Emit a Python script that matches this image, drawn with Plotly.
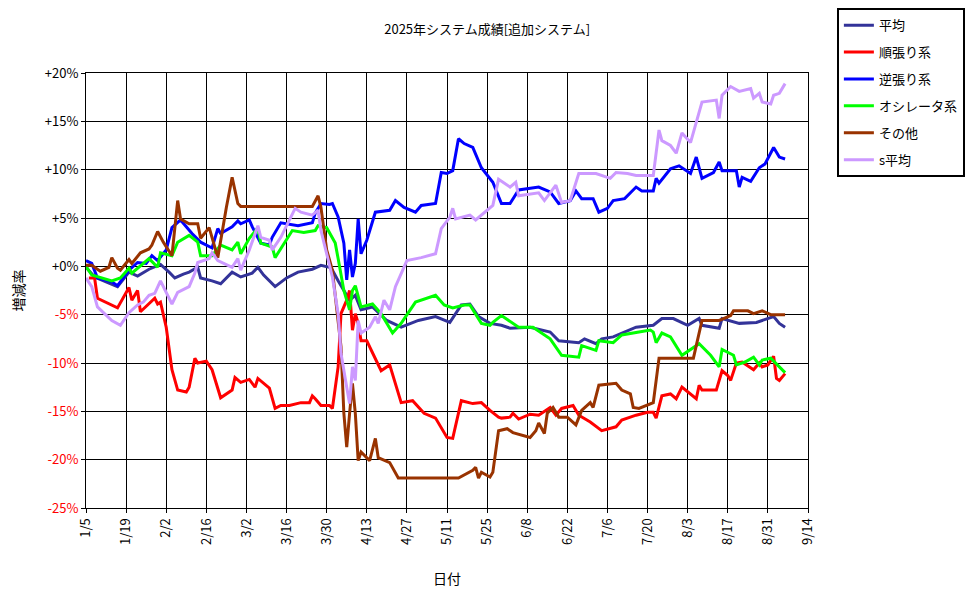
import pandas as pd
import plotly.graph_objects as go

# days counted from 2025-01-05, values in %
avg_days = [0, 3, 7, 11, 15, 18, 22, 26, 29, 31, 34, 36, 39, 40, 44, 47, 51, 54, 58, 60, 62, 66, 70, 74, 79, 82, 85,
            86, 88, 90, 92, 94, 96, 100, 105, 110, 116, 122, 127, 131, 134, 137, 141, 145, 148, 155, 162, 165, 172,
            174, 178, 180, 184, 192, 198, 201, 205, 210, 214, 215, 221, 222, 228, 234, 240, 242, 244]
avg_vals = [-0.1, -1.1, -1.6, -2.1, -0.6, -1.0, -0.3, 0.2, -0.6, -1.2, -0.8, -0.6, -0.1, -1.2, -1.5, -1.8, -0.6, -1.1,
            -0.7, -0.1, -0.9, -2.1, -1.2, -0.6, -0.3, 0.1, -0.1, -0.4, -1.5, -2.5, -3.5, -3.0, -4.5, -4.2, -5.6, -6.3,
            -5.6, -5.2, -5.8, -4.0, -3.9, -5.2, -5.9, -6.1, -6.4, -6.3, -6.8, -7.7, -7.9, -7.5, -8.0, -7.5, -7.3, -6.3,
            -6.1, -5.4, -5.4, -6.1, -5.4, -6.1, -6.4, -5.4, -5.9, -5.8, -5.2, -5.9, -6.3]

trend_days = [1, 3, 4, 9, 11, 15, 16, 18, 19, 24, 25, 26, 28, 30, 32, 35, 36, 38, 39, 42, 44, 47, 51, 52, 54, 57, 59,
              60, 64, 66, 68, 71, 75, 78, 79, 80, 82, 85, 86, 88, 89, 91, 92, 93, 94, 95, 96, 98, 100, 103, 106, 110,
              114, 118, 122, 126, 128, 131, 135, 138, 141, 144, 145, 148, 149, 151, 155, 158, 162, 164, 166, 170, 172,
              176, 180, 185, 187, 192, 196, 198, 199, 201, 204, 206, 208, 213, 214, 215, 220, 222, 224, 225, 227, 229,
              233, 235, 236, 238, 240, 241, 242, 244]
trend_vals = [-1.2, -1.2, -3.3, -4.0, -4.3, -2.2, -3.5, -2.5, -4.7, -3.3, -3.9, -3.7, -6.3, -10.7, -12.8, -13.0, -12.5,
              -9.5, -10.0, -9.8, -10.7, -13.6, -12.8, -11.5, -12.0, -11.7, -12.5, -11.6, -12.6, -14.7, -14.4, -14.4,
              -14.1, -14.1, -13.4, -13.7, -14.4, -14.4, -14.7, -10.4, -4.9, -3.5, -2.5, -6.6, -4.9, -5.9, -7.7, -7.7,
              -9.0, -10.8, -10.2, -14.1, -13.9, -15.2, -15.7, -17.7, -17.8, -13.9, -14.2, -14.1, -14.9, -15.6, -15.7,
              -15.6, -15.2, -15.8, -15.3, -15.4, -14.6, -15.4, -14.7, -14.4, -15.4, -16.1, -17.0, -16.6, -15.9, -15.4,
              -15.1, -15.1, -15.7, -13.4, -13.2, -13.7, -12.5, -13.7, -12.3, -12.8, -12.8, -10.8, -11.3, -11.8, -10.0,
              -9.9, -10.7, -10.0, -10.4, -10.2, -9.3, -11.6, -11.8, -11.1]

contra_days = [0, 2, 4, 9, 11, 15, 18, 21, 23, 25, 28, 30, 33, 37, 40, 44, 46, 47, 51, 53, 54, 57, 58, 61, 64, 65, 68,
               70, 74, 79, 80, 82, 85, 86, 88, 90, 91, 92, 93, 94, 95, 96, 98, 101, 106, 108, 111, 115, 117, 122, 124,
               126, 128, 130, 132, 135, 138, 142, 145, 148, 151, 158, 162, 165, 169, 171, 173, 177, 179, 182, 184, 188,
               192, 194, 198, 199, 200, 204, 207, 211, 213, 215, 219, 221, 222, 227, 228, 229, 232, 235, 237, 240, 242,
               244]
contra_vals = [0.6, 0.3, -1.2, -1.6, -2.0, -0.4, 0.4, 0.3, 1.1, 0.6, 1.7, 4.0, 4.8, 3.4, 2.5, 1.9, 3.9, 3.4, 4.1, 4.7,
               4.4, 4.8, 4.1, 2.4, 2.2, 3.0, 4.5, 4.4, 4.2, 4.5, 5.5, 6.5, 6.4, 6.5, 5.1, 2.4, -1.4, 1.7, -1.1, 0.3, 4.9,
               1.3, 2.7, 5.6, 5.8, 6.8, 6.1, 5.6, 6.3, 6.5, 9.7, 9.6, 9.9, 13.2, 12.7, 12.3, 10.2, 8.7, 6.5, 6.5, 7.9,
               8.2, 7.7, 6.5, 6.8, 7.8, 7.0, 7.0, 5.6, 6.0, 6.8, 7.0, 8.2, 7.8, 7.8, 9.1, 8.6, 10.1, 10.4, 9.6, 11.3,
               9.1, 9.7, 10.8, 9.9, 9.9, 8.2, 9.2, 8.8, 10.2, 10.6, 12.3, 11.3, 11.1]

osc_days = [0, 2, 9, 12, 15, 16, 22, 25, 26, 30, 32, 36, 39, 40, 44, 47, 51, 53, 54, 57, 60, 61, 65, 66, 72, 76, 80,
            81, 84, 87, 88, 90, 92, 93, 94, 95, 96, 100, 103, 107, 110, 115, 122, 125, 128, 132, 134, 138, 141, 142,
            145, 151, 156, 162, 166, 172, 173, 178, 179, 184, 187, 193, 197, 198, 199, 201, 204, 208, 212, 214, 218,
            221, 222, 226, 227, 230, 233, 235, 236, 239, 244]
osc_vals = [0.0, -0.9, -1.5, -1.2, -0.2, -0.7, 0.8, -0.1, 1.4, 1.1, 2.5, 3.2, 2.5, 1.1, 1.1, 2.2, 1.7, 2.5, 1.3, 2.9,
            4.0, 2.4, 2.0, 0.9, 3.7, 3.5, 3.7, 4.2, 4.0, 2.4, 0.8, -2.5, -4.5, -2.5, -2.0, -3.0, -4.2, -3.9, -4.9, -6.9,
            -5.9, -3.7, -3.0, -4.0, -4.3, -4.0, -4.0, -5.9, -6.1, -5.8, -5.1, -6.3, -6.3, -7.5, -9.2, -9.4, -8.2, -8.7,
            -7.7, -7.9, -7.1, -6.8, -6.6, -6.8, -7.9, -6.9, -7.3, -9.2, -8.4, -8.0, -9.2, -10.4, -8.6, -9.2, -10.2,
            -9.9, -9.4, -10.2, -9.7, -9.5, -11.0]

other_days = [0, 2, 5, 8, 9, 11, 12, 15, 16, 19, 22, 23, 25, 27, 30, 32, 33, 36, 39, 40, 43, 46, 49, 51, 53, 54, 79,
              81, 82, 84, 86, 87, 89, 90, 91, 92, 93, 94, 95, 96, 99, 101, 102, 106, 109, 130, 132, 135, 136, 137, 138,
              141, 142, 144, 147, 149, 155, 157, 158, 160, 161, 163, 165, 168, 171, 173, 176, 177, 179, 185, 187, 190,
              191, 193, 198, 199, 200, 212, 214, 215, 221, 225, 226, 231, 233, 236, 239, 244]
other_vals = [0.1, 0.1, -0.5, -0.1, 0.9, -0.2, -0.4, 0.7, 0.3, 1.4, 1.8, 2.2, 3.6, 2.5, 1.1, 6.8, 4.9, 4.4, 4.4, 2.9,
              4.0, 0.9, 6.1, 9.2, 6.5, 6.2, 6.2, 7.3, 6.1, 1.7, -0.4, -3.2, -8.3, -15.2, -18.7, -15.2, -12.1, -15.2,
              -20.1, -19.2, -20.1, -17.8, -19.8, -20.3, -21.9, -21.9, -21.6, -21.1, -20.8, -21.9, -21.3, -21.8, -21.3,
              -17.0, -16.8, -17.2, -17.7, -17.0, -16.2, -17.3, -15.2, -14.6, -15.6, -15.6, -16.4, -14.9, -14.1, -14.6,
              -12.3, -12.1, -12.8, -13.2, -14.6, -14.7, -14.1, -11.5, -9.5, -9.5, -6.9, -5.6, -5.6, -5.1, -4.6, -4.6,
              -4.9, -4.6, -5.0, -5.0]

savg_days = [0, 2, 4, 9, 12, 15, 18, 20, 22, 24, 26, 30, 32, 36, 38, 39, 43, 44, 46, 51, 53, 54, 57, 60, 61, 64, 65,
             68, 73, 75, 79, 81, 82, 84, 86, 88, 89, 91, 92, 93, 94, 95, 96, 99, 101, 102, 104, 106, 108, 112, 117,
             122, 124, 127, 128, 129, 134, 136, 139, 142, 144, 148, 150, 151, 158, 160, 164, 166, 169, 172, 178, 183,
             185, 189, 192, 198, 200, 201, 204, 206, 208, 211, 215, 220, 221, 222, 225, 228, 232, 233, 235, 236, 239,
             240, 242, 244]
savg_vals = [-1.2, -2.1, -4.2, -5.6, -6.1, -4.8, -4.0, -3.7, -3.0, -2.8, -1.5, -3.9, -2.7, -2.1, -0.7, 0.4, 0.8, 1.4,
             0.6, -0.1, 0.8, -0.4, 1.7, 4.2, 3.0, 2.7, 1.7, 3.0, 6.0, 5.6, 5.3, 5.8, 3.7, 1.3, -1.1, -4.9, -9.0, -12.5,
             -14.2, -10.4, -11.8, -5.6, -6.9, -6.3, -5.2, -5.9, -3.5, -4.5, -2.1, 0.6, 0.9, 1.3, 3.9, 5.1, 6.0, 4.9,
             5.3, 4.8, 5.6, 6.3, 9.0, 8.2, 8.7, 7.3, 7.6, 6.8, 8.4, 6.6, 6.8, 9.6, 9.6, 9.1, 9.7, 9.6, 9.4, 9.4, 14.1,
             13.0, 12.5, 11.7, 13.8, 12.8, 17.0, 17.2, 15.3, 17.7, 18.6, 18.1, 18.4, 17.4, 17.9, 17.0, 16.8, 17.7,
             17.9, 18.9]

series = [
    ("平均", avg_days, avg_vals, "#333399"),
    ("順張り系", trend_days, trend_vals, "#FF0000"),
    ("逆張り系", contra_days, contra_vals, "#0000FF"),
    ("オシレータ系", osc_days, osc_vals, "#00FF00"),
    ("その他", other_days, other_vals, "#993300"),
    ("s平均", savg_days, savg_vals, "#CC99FF"),
]

y_ticks = [20, 15, 10, 5, 0, -5, -10, -15, -20, -25]

base = pd.Timestamp("2025-01-05")
FONT = "Noto Sans CJK JP"

fig = go.Figure()
for name, days, vals, color in series:
    fig.add_trace(go.Scatter(
        x=base + pd.to_timedelta(days, unit="D"),
        y=vals,
        name=name,
        mode="lines",
        line=dict(color=color, width=3),
        legendgroup=name,
    ))

tick_text = []
for v in y_ticks:
    if v < 0:
        tick_text.append(f"<span style='color:#FF0000'>{v}%</span>")
    else:
        tick_text.append(f"+{v}%")

# page body adds an 8px margin, so the figure is a bit smaller than the window
fig.update_layout(
    width=968, height=591,
    margin=dict(l=78, r=168, t=65, b=91, autoexpand=False),
    paper_bgcolor="white", plot_bgcolor="white",
    font=dict(family=FONT, size=12, color="black"),
    title=dict(text="2025年システム成績[追加システム]", x=0.495, xanchor="center",
               y=0.963, yanchor="middle", font=dict(size=13)),
    showlegend=True,
    legend=dict(x=1.04, y=1.149, xanchor="left", yanchor="top",
                bordercolor="black", borderwidth=2, bgcolor="white",
                tracegroupgap=7, font=dict(size=13)),
)

fig.update_xaxes(
    range=[base, base + pd.Timedelta(days=252)],
    tick0=base, dtick=14 * 86400000, tickformat="%-m/%-d", tickangle=-90,
    tickfont=dict(size=13),
    showgrid=True, gridcolor="black", gridwidth=1,
    showline=True, linecolor="black", linewidth=1, mirror=True,
    ticks="outside", ticklen=4, tickcolor="black", automargin=False,
    title=dict(text="日付", standoff=30), zeroline=False,
)
fig.update_yaxes(
    range=[-25, 20], tickvals=y_ticks, ticktext=tick_text,
    tickfont=dict(size=13),
    showgrid=True, gridcolor="black", gridwidth=1,
    showline=True, linecolor="black", linewidth=1, mirror=True,
    ticks="outside", ticklen=4, tickcolor="black", automargin=False,
    title=dict(text="増減率", standoff=26), zeroline=False,
)

fig.write_html("out.html")
